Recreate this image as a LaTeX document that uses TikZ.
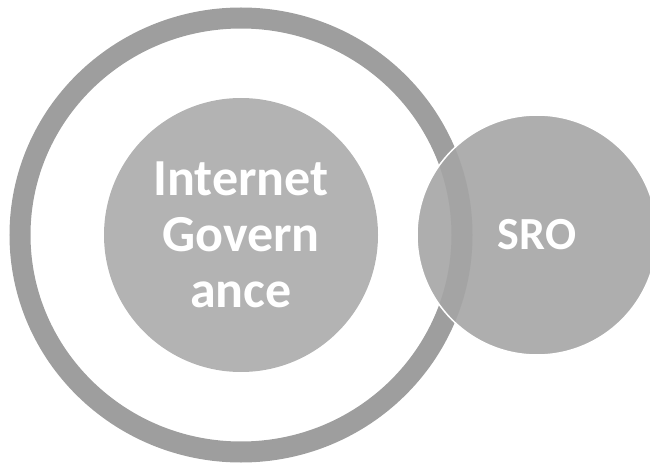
\documentclass[tikz,border=0pt]{standalone}
\usepackage{fontspec}
\setmainfont{Carlito}
\definecolor{ringgray}{HTML}{9E9E9E}
\definecolor{igfill}{HTML}{B3B3B3}
\definecolor{srofill}{HTML}{A5A5A5}

\begin{document}
\begin{tikzpicture}[x=1pt,y=1pt,
    bigtxt/.style={font=\fontsize{52}{56}\selectfont\bfseries, align=center, inner sep=0pt, text=white},
    srotxt/.style={font=\fontsize{46}{50}\selectfont\bfseries, inner sep=0pt, text=white}]
    \useasboundingbox (0,0) rectangle (650,464);
    \clip (0,0) rectangle (650,464);
    %ring
    \coordinate (ringc) at (241,229);
    \draw[ringgray, line width=21pt] (ringc) ellipse [x radius=221, y radius=217];
    %inner
    \node[circle, fill=igfill, minimum size=274pt, inner sep=0pt] (ig) at (241,229) {};
    \node[bigtxt] (igtext) at (ig.center) {Internet\\Govern\\ance};
    %sro
    \node[circle, fill=srofill, fill opacity=0.9, draw=white, line width=1.5pt, minimum size=240pt, inner sep=0pt] (sro) at (537,229) {};
    \node[srotxt] (srotext) at (sro.center) {SRO};
\end{tikzpicture}
\end{document}
